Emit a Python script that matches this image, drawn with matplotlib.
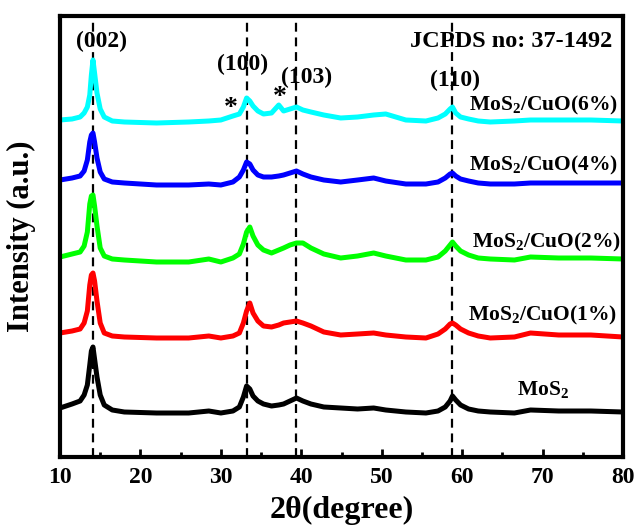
import matplotlib
matplotlib.use("Agg")
import matplotlib.pyplot as plt

plt.rcParams['font.family'] = ['Liberation Serif', 'DejaVu Serif']
plt.rcParams['font.weight'] = 'bold'
plt.rcParams['mathtext.fontset'] = 'custom'
plt.rcParams['mathtext.rm'] = 'Liberation Serif:bold'
plt.rcParams['mathtext.it'] = 'Liberation Serif:bold'
plt.rcParams['mathtext.bf'] = 'Liberation Serif:bold'

# 2-theta sampling positions (degrees)
two_theta = [10, 11.5, 12.5, 13.0, 13.4, 13.7, 13.9, 14.1, 14.3, 14.6, 15.0, 15.5, 16.5,
             18, 22, 26, 28.5, 30,
             31.5, 32.3, 32.8, 33.2, 33.6, 34.0, 34.6, 35.3, 36.3, 37.2, 37.8, 38.6,
             39.4, 40.2, 41.2, 42.8,
             44.9, 47, 49, 50.5, 53,
             55.5, 57.0, 57.9, 58.5, 58.8, 59.2, 59.8, 60.8, 62, 63.5,
             66.5, 68.5, 72, 76, 80]

# Diffraction intensities (a.u.), before vertical stacking
mos2 = [49, 53, 56, 62, 72, 92, 106, 110, 98, 80, 62, 52, 47,
        45, 44, 44, 46, 44,
        46, 50, 60, 71, 68, 61, 56, 53, 51, 52, 53, 56, 59, 56, 53, 50,
        49, 48, 49, 47, 45,
        44, 46, 50, 56, 61, 57, 52, 48, 46, 45,
        44, 47, 46, 46, 45]
cuo_1 = [48, 50, 52, 58, 70, 96, 106, 108, 100, 80, 58, 48, 45,
         44, 43, 43, 45, 43,
         45, 48, 58, 70, 78, 68, 60, 55, 54, 56, 58, 59, 60, 58, 55, 49,
         46, 47, 48, 46, 44,
         43, 47, 52, 57, 58, 56, 52, 48, 45, 43,
         44, 48, 46, 46, 44]
cuo_2 = [47, 50, 52, 58, 72, 100, 108, 109, 98, 78, 56, 48, 45,
         44, 42, 42, 45, 42,
         46, 50, 60, 72, 77, 68, 59, 54, 51, 54, 56, 59, 61, 61, 56, 50,
         46, 48, 51, 48, 44,
         44, 47, 53, 59, 62, 58, 53, 49, 46, 45,
         44, 47, 46, 46, 45]
cuo_4 = [48, 50, 52, 57, 68, 86, 93, 95, 86, 70, 56, 49, 46,
         45, 43, 43, 44, 43,
         46, 51, 58, 66, 64, 58, 53, 51, 51, 52, 53, 55, 57, 54, 51, 48,
         46, 48, 50, 47, 44,
         44, 46, 50, 54, 55, 52, 49, 47, 45, 44,
         44, 45, 45, 45, 45]
cuo_6 = [45, 46, 48, 52, 58, 70, 90, 105, 92, 72, 56, 48, 44,
         43, 42, 43, 44, 45,
         49, 51, 58, 67, 64, 59, 54, 51, 52, 60, 54, 56, 58, 55, 53, 50,
         47, 48, 50, 51, 45,
         44, 47, 51, 56, 58, 52, 48, 46, 44, 43,
         44, 45, 45, 45, 44]

series = [mos2, cuo_1, cuo_2, cuo_4, cuo_6]
offsets = [0, 76, 153, 229, 292]
colors = ['#000000', '#ff0000', '#00ff00', '#0000ff', '#00ffff']
labels = ['MoS$_2$', 'MoS$_2$/CuO(1%)', 'MoS$_2$/CuO(2%)',
          'MoS$_2$/CuO(4%)', 'MoS$_2$/CuO(6%)']
label_x = [70.1, 70.0, 70.5, 70.1, 70.1]
label_y = [62, 137, 210, 287, 347]

# JCPDS 37-1492 reflections
ref_pos = [14.1, 33.2, 39.4, 58.8]
ref_hkl = ['(002)', '(100)', '(103)', '(110)']
hkl_x = [15.2, 32.7, 40.7, 59.1]
hkl_y = [416, 393, 380, 377]

# CuO reflections marked with asterisks
star_x = [31.2, 37.3]
star_y = [349, 360]

fig = plt.figure(figsize=(6.36, 5.25), dpi=100)
ax = fig.add_axes([60 / 636, 1 - 457 / 525, 563 / 636, 441 / 525])

for xr in ref_pos:
    ax.axvline(xr, color='black', lw=1.6, linestyle=(0, (4, 2.6)), zorder=1)

for y, off, c in zip(series, offsets, colors):
    ax.plot(two_theta, [v + off for v in y], color=c, lw=3.6, zorder=2,
            solid_joinstyle='round')

for lx, ly, lab in zip(label_x, label_y, labels):
    ax.text(lx, ly, lab, ha='center', va='baseline', fontsize=15.5, fontweight='bold')

for hx, hy, hkl in zip(hkl_x, hkl_y, ref_hkl):
    ax.text(hx, hy, hkl, ha='center', va='center', fontsize=17, fontweight='bold')

for sx, sy in zip(star_x, star_y):
    ax.text(sx, sy, '*', ha='center', va='center', fontsize=20, fontweight='bold')

ax.text(78.7, 416, 'JCPDS no: 37-1492', ha='right', va='center',
        fontsize=17.5, fontweight='bold')

ax.set_xlim(10, 80)
ax.set_ylim(0, 441)
ax.set_xticks([10, 20, 30, 40, 50, 60, 70, 80])
ax.set_xticks([15, 25, 35, 45, 55, 65, 75], minor=True)
ax.set_yticks([])
ax.tick_params(axis='x', which='major', direction='in', length=6, width=2,
               labelsize=17, pad=7)
ax.tick_params(axis='x', which='minor', direction='in', length=3.5, width=2)
for lab in ax.get_xticklabels():
    lab.set_fontweight('bold')
for s in ax.spines.values():
    s.set_linewidth(3)

ax.set_xlabel('2θ(degree)', fontsize=23, fontweight='bold', va='center')
ax.xaxis.set_label_coords(0.5, -0.122)
ax.set_ylabel('Intensity (a.u.)', fontsize=22, fontweight='bold', va='center')
ax.yaxis.set_label_coords(-0.068, 0.5)

fig.savefig('out.png', dpi=100)
